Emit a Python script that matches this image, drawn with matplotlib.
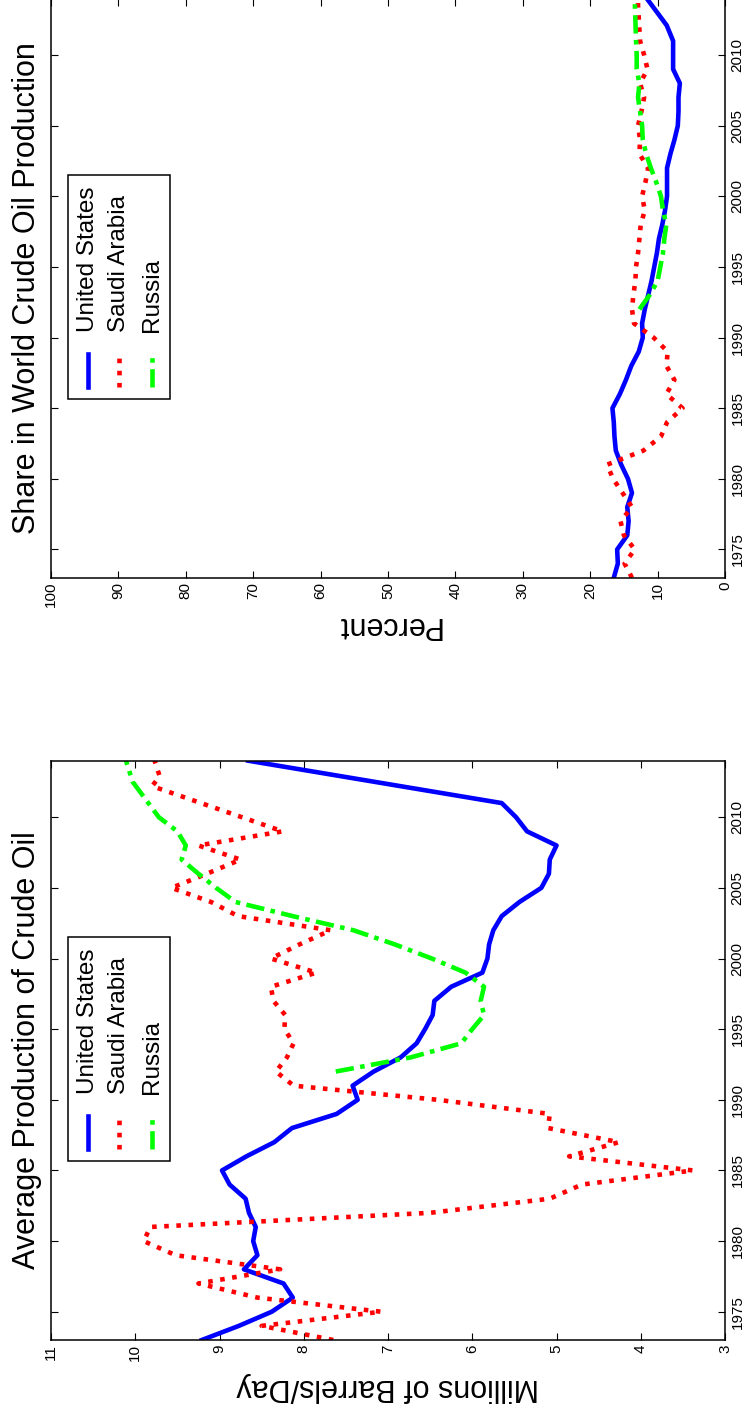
import matplotlib
matplotlib.use("Agg")
import matplotlib.pyplot as plt
import numpy as np

# ---- data ----
years = list(range(1973, 2012))

# Average production, millions of barrels/day
us_prod_years = years + [2014]
us_prod = [9.21, 8.77, 8.38, 8.13, 8.24, 8.71, 8.55, 8.60, 8.57, 8.65,
           8.69, 8.88, 8.97, 8.68, 8.35, 8.14, 7.61, 7.36, 7.42, 7.17,
           6.85, 6.66, 6.56, 6.47, 6.45, 6.25, 5.88, 5.82, 5.80, 5.75,
           5.65, 5.44, 5.18, 5.09, 5.08, 5.00, 5.35, 5.48, 5.65, 8.66]

sa_prod_years = list(range(1973, 2010)) + [2012.2, 2012.9, 2014]
sa_prod = [7.65, 8.50, 7.08, 8.55, 9.25, 8.28, 9.52, 9.90, 9.82, 6.50,
           5.08, 4.70, 3.38, 4.85, 4.26, 5.10, 5.08, 6.41, 8.12, 8.33,
           8.20, 8.12, 8.23, 8.22, 8.36, 8.39, 7.85, 8.39, 8.05, 7.68,
           8.78, 9.10, 9.57, 9.15, 8.75, 9.25, 8.25, 9.80, 9.71, 9.77]

ru_prod_years = [1992, 1993, 1994, 1995, 1996, 1997, 1998, 1999, 2000, 2001,
                 2002, 2003, 2004, 2005, 2006, 2007, 2008, 2009, 2010, 2012.5, 2014]
ru_prod = [7.62, 6.73, 6.13, 6.00, 5.86, 5.90, 5.86, 6.08, 6.48, 6.92,
           7.41, 8.13, 8.81, 9.04, 9.25, 9.45, 9.40, 9.50, 9.72, 10.03, 10.11]

# Share in world crude oil production, percent
us_share_years = years + [2012.1, 2014]
us_share = [16.5, 15.9, 16.0, 14.5, 14.3, 14.5, 13.8, 14.4, 15.4, 16.2,
            16.4, 16.5, 16.7, 15.6, 14.7, 13.9, 12.8, 12.2, 12.3, 11.9,
            11.4, 10.9, 10.5, 10.1, 9.8, 9.3, 8.9, 8.6, 8.6, 8.6,
            8.1, 7.5, 7.0, 6.9, 6.9, 6.7, 7.7, 7.7, 7.7, 8.65, 11.6]

sa_share_years = list(range(1973, 2012)) + [2013.5, 2014]
sa_share = [13.8, 14.9, 13.4, 15.0, 15.5, 13.8, 15.2, 16.6, 17.5, 12.1,
            9.5, 8.6, 6.3, 8.7, 7.5, 8.7, 8.5, 10.6, 13.5, 13.8,
            13.6, 13.3, 13.2, 12.9, 12.7, 12.5, 11.9, 12.3, 11.8, 11.4,
            12.7, 12.6, 12.9, 12.4, 12.0, 12.6, 11.5, 12.0, 12.6, 12.9, 12.9]

ru_share_years = [1992, 1993, 1994, 1995, 1996, 1997, 1998, 1999, 2000, 2001,
                  2002, 2003, 2004, 2005, 2006, 2007, 2008, 2009, 2010, 2011, 2014]
ru_share = [12.7, 11.2, 10.0, 9.6, 9.2, 9.0, 8.7, 9.2, 9.5, 10.2,
            11.0, 11.7, 12.2, 12.3, 12.6, 12.9, 12.7, 13.1, 13.1, 13.2, 13.4]

names = ['United States', 'Saudi Arabia', 'Russia']
colors = ['#0000ff', '#ff0000', '#00ff00']
styles = ['-', ':', (0, (4, 1.4, 1, 1.4))]
LW = 3.3

year_lim = (1973, 2014)
year_ticks = [1975, 1980, 1985, 1990, 1995, 2000, 2005, 2010]

W, H = 747, 1411
fig = plt.figure(figsize=(W / 100, H / 100), dpi=100)
plt.rcParams['font.family'] = ['Liberation Sans', 'DejaVu Sans']


def fx(x):
    return x / W


def fy(y):
    return 1 - y / H


def make_panel(top_px, bottom_px, vmax, vmin, vticks, series, title, label):
    ax = fig.add_axes([fx(51), fy(bottom_px), fx(725) - fx(51), fy(top_px) - fy(bottom_px)])
    for (yrs, vals), c, ls in zip(series, colors, styles):
        ax.plot(vals, yrs, color=c, linestyle=ls, linewidth=LW)
    ax.set_xlim(vmax, vmin)
    ax.set_ylim(*year_lim)
    ax.set_xticks(vticks)
    ax.set_yticks(year_ticks)
    ax.tick_params(axis='both', direction='in', length=4.8, width=0.8,
                   top=True, right=True, labelsize=11)
    ax.tick_params(axis='y', labelleft=False, labelright=True, pad=4)
    ax.tick_params(axis='x', pad=3)
    for t in ax.get_xticklabels():
        t.set_rotation(90)
        t.set_va('top')
        t.set_ha('center')
    for t in ax.get_yticklabels():
        t.set_rotation(90)
        t.set_va('center')
        t.set_ha('left')
    for s in ax.spines.values():
        s.set_linewidth(1.1)

    mid = (top_px + bottom_px) / 2
    fig.text(fx(27), fy(mid), title, rotation=90, ha='center', va='center', fontsize=22)
    fig.text(fx(388), fy(bottom_px + 47), label, rotation=180, ha='center', va='center', fontsize=22)

    # legend box drawn by hand so that it turns with the rest of the page
    ax.add_patch(plt.Rectangle((0.0252, 0.309), 0.1514, 0.3867, transform=ax.transAxes,
                               facecolor='white', edgecolor='black', linewidth=1.1, zorder=5))
    for i, (n, c, ls) in enumerate(zip(names, colors, styles)):
        xc = [0.0545, 0.1004, 0.150][i]
        ax.plot([xc, xc], [0.329, 0.386], transform=ax.transAxes, color=c,
                linestyle=ls, linewidth=LW, zorder=6)
        ax.text(xc, 0.425, n, transform=ax.transAxes, rotation=90, ha='center',
                va='bottom', fontsize=17.5, zorder=6)
    return ax


make_panel(-1.5, 577.7, 100, 0, list(range(0, 101, 10)),
           [(us_share_years, us_share), (sa_share_years, sa_share), (ru_share_years, ru_share)],
           'Share in World Crude Oil Production', 'Percent')
make_panel(760.7, 1340, 11, 3, list(range(3, 12)),
           [(us_prod_years, us_prod), (sa_prod_years, sa_prod), (ru_prod_years, ru_prod)],
           'Average Production of Crude Oil', 'Millions of Barrels/Day')

fig.savefig('out.png', dpi=100)
